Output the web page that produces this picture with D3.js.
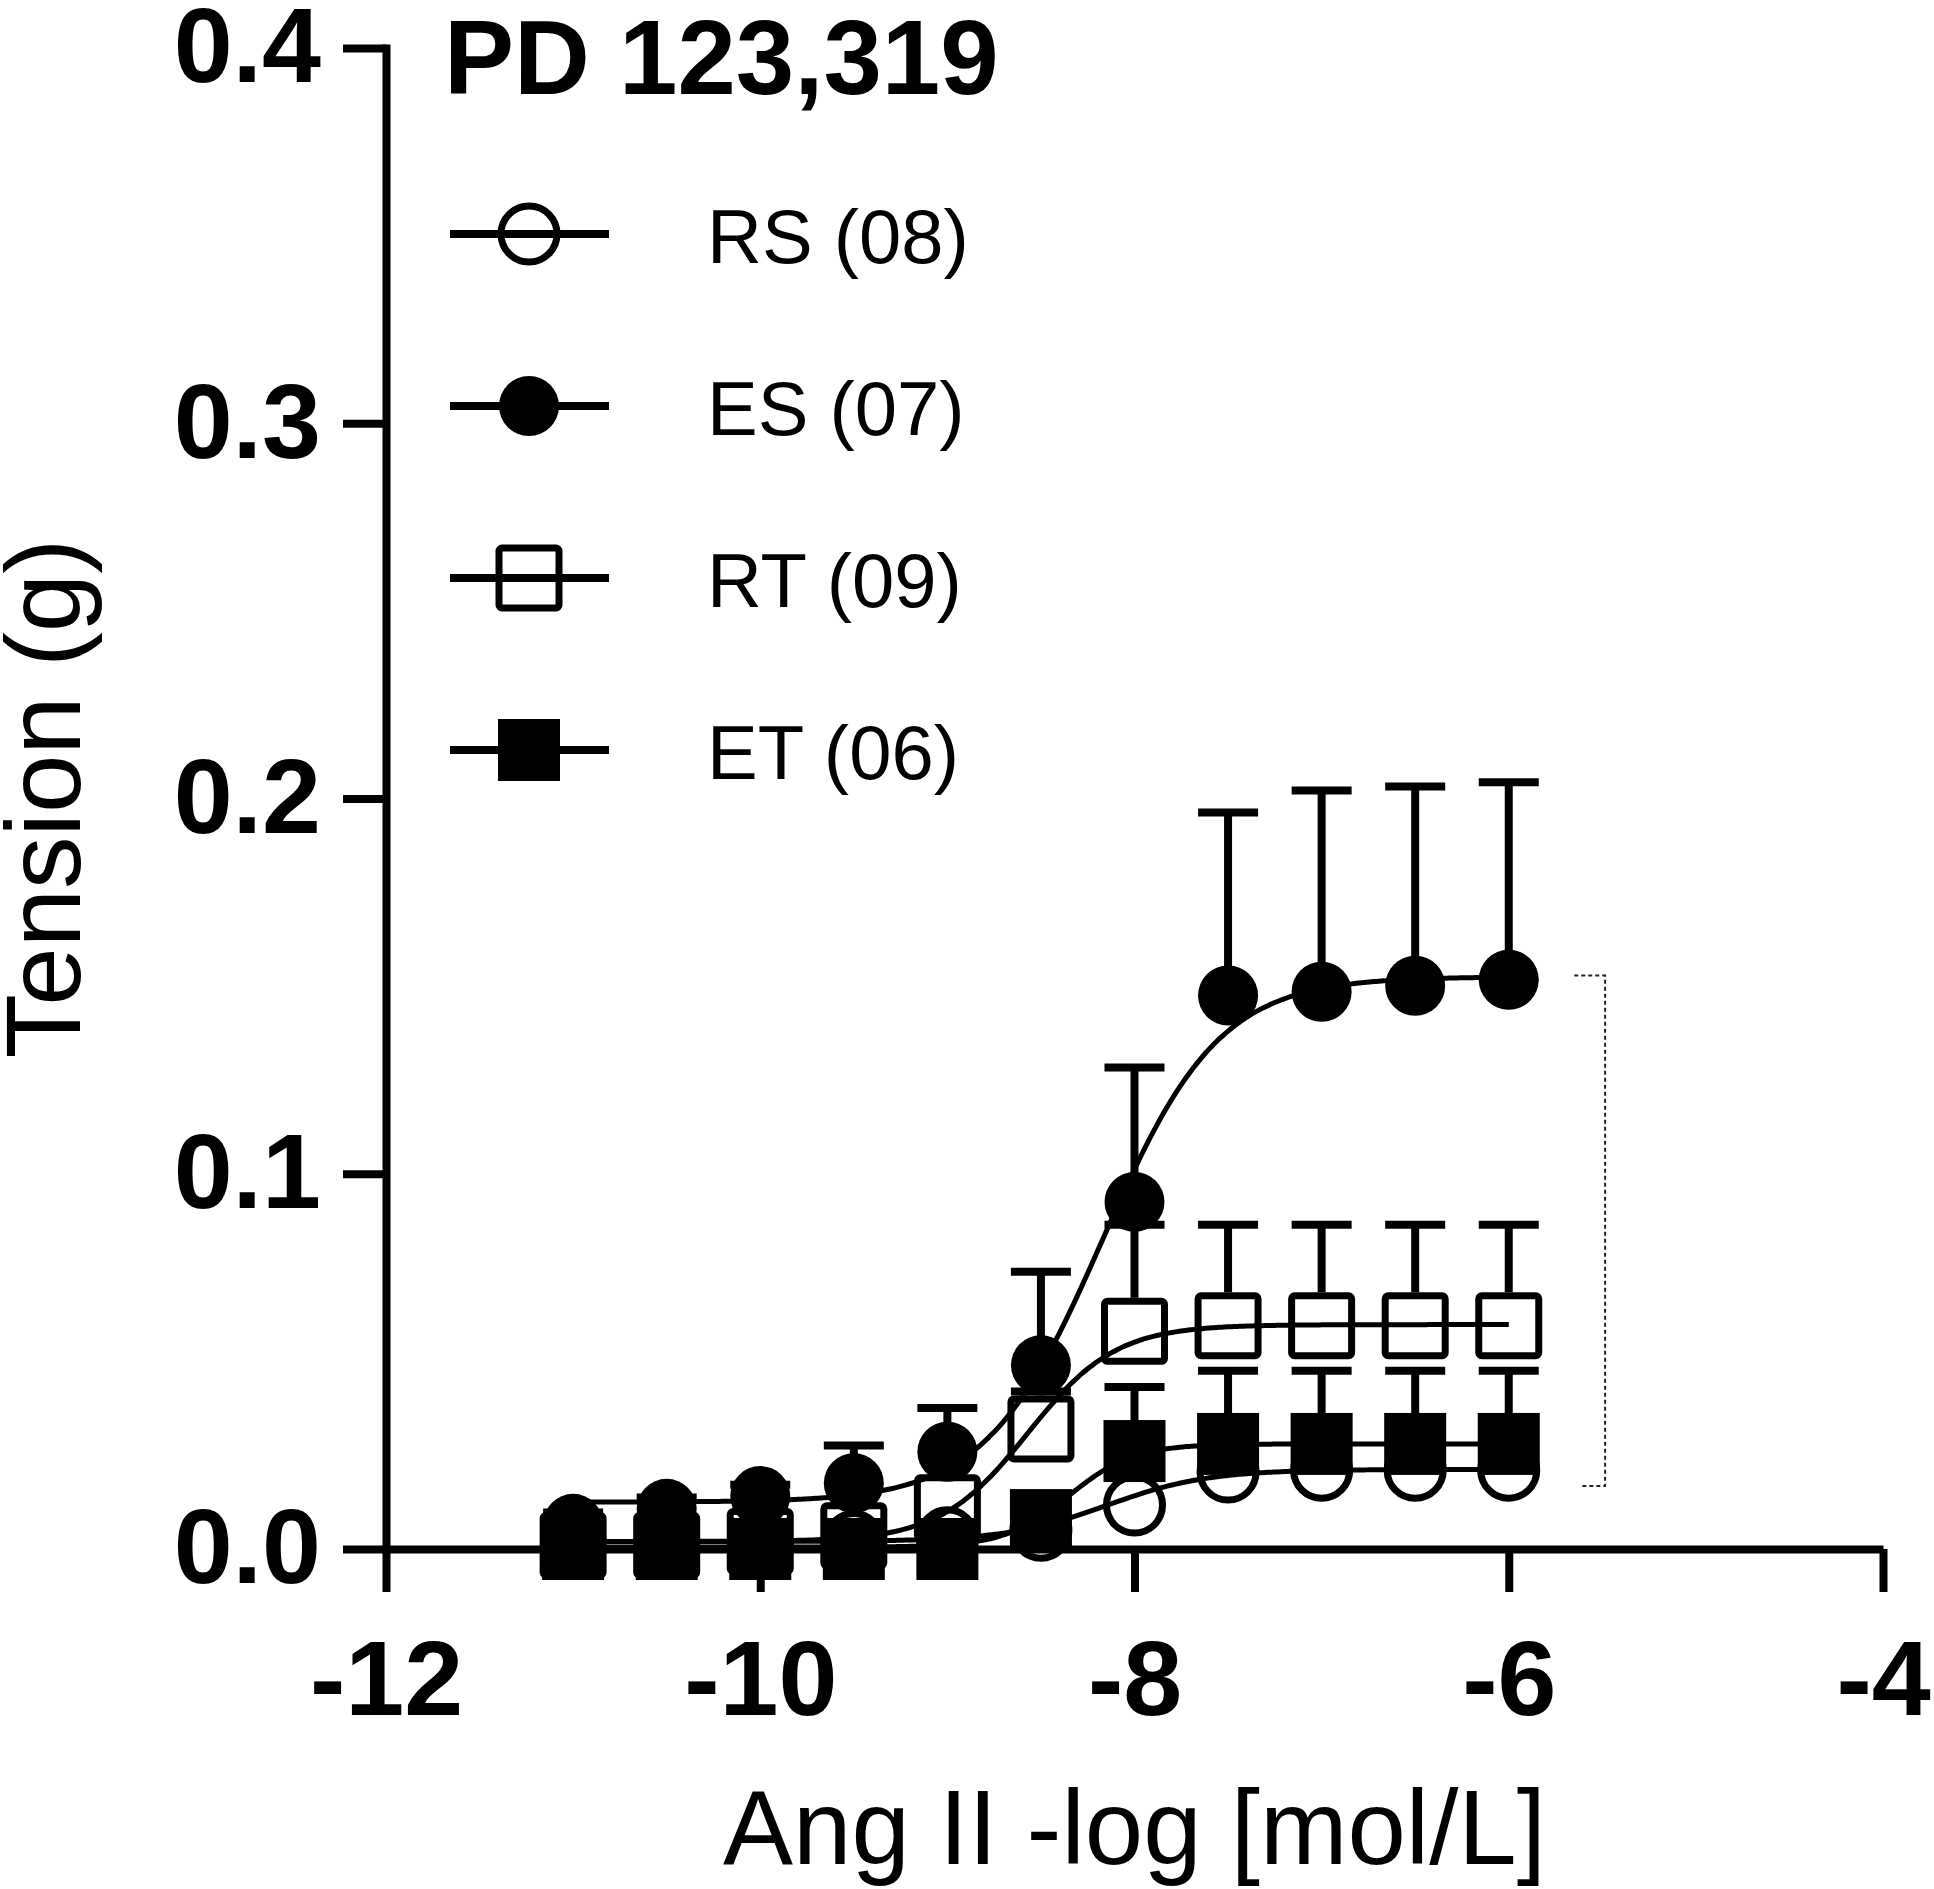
<!DOCTYPE html>
<html>
<head>
<meta charset="utf-8">
<script src="https://cdn.jsdelivr.net/npm/d3@7"></script>
<style>
  html, body { margin: 0; padding: 0; background: #fff; }
  svg { display: block; font-family: "Liberation Sans", Arial, Helvetica, sans-serif; }
</style>
</head>
<body>
<svg id="chart" width="1934" height="1889"></svg>
<script>
// ---- data ----
const doses = [-11, -10.5, -10, -9.5, -9, -8.5, -8, -7.5, -7, -6.5, -6];

const rsMean = [0.002, 0.002, 0.002, 0.002, 0.003, 0.005, 0.0117, 0.0205, 0.021, 0.021, 0.021];
const rsSem  = [0.002, 0.002, 0.002, 0.002, 0.002, 0.002, 0.003, 0.004, 0.004, 0.004, 0.004];

const esMean = [0.0067, 0.0107, 0.0141, 0.0175, 0.0259, 0.049, 0.0925, 0.1475, 0.1485, 0.1501, 0.1517];
const esSem  = [0.003, 0.003, 0.003, 0.0101, 0.0117, 0.0249, 0.0358, 0.0488, 0.0536, 0.0531, 0.0526];

const rtMean = [0.001, 0.001, 0.002, 0.0035, 0.011, 0.032, 0.058, 0.0595, 0.0595, 0.0595, 0.0595];
const rtSem  = [0.002, 0.002, 0.002, 0.003, 0.005, 0.010, 0.0284, 0.0269, 0.0269, 0.0269, 0.0269];

const etMean = [0, 0, 0, 0, 0, 0.0077, 0.0261, 0.028, 0.028, 0.028, 0.028];
const etSem  = [0.001, 0.001, 0.001, 0.001, 0.001, 0.003, 0.0171, 0.0195, 0.0195, 0.0195, 0.0195];

// fitted sigmoid (4-parameter logistic) parameters per series: RS, ES, RT, ET
const fitBottom  = [0.002, 0.0125, 0.002, 0.0005];
const fitTop     = [0.0212, 0.1525, 0.0598, 0.028];
const fitLogEC50 = [-8.15, -8.17, -8.57, -8.35];
const fitHill    = [1.6, 1.4, 1.85, 2.5];

const seriesNames = ["RS (08)", "ES (07)", "RT (09)", "ET (06)"];
const seriesShape = ["circle", "circle", "square", "square"];
const seriesFilled = [false, true, false, true];

const xTicks = [-12, -10, -8, -6, -4];
const yTicks = [0.0, 0.1, 0.2, 0.3, 0.4];
const chartTitle = "PD 123,319";
const xTitle = "Ang II -log [mol/L]";
const yTitle = "Tension (g)";
// dotted bracket annotation (between ES and RS plateaus)
const bracketValues = [0.1528, 0.0168];

// ---- drawing ----
const svg = d3.select("#chart");
svg.append("rect").attr("width", 1934).attr("height", 1889).attr("fill", "#fff");

const x = d3.scaleLinear().domain([-12, -4]).range([386, 1883]);
const y = d3.scaleLinear().domain([0, 0.4]).range([1549, 48]);

const axisW = 8;

// Y axis
const yAxis = svg.append("g").attr("transform", `translate(${x(-12)},0)`)
  .call(d3.axisLeft(y).tickValues(yTicks).tickFormat(d3.format(".1f"))
        .tickSize(43).tickSizeOuter(0).tickPadding(22));
yAxis.select(".domain").attr("stroke", "#000").attr("stroke-width", axisW).attr("stroke-linecap", "square");
yAxis.selectAll(".tick line").attr("stroke", "#000").attr("stroke-width", axisW);
yAxis.selectAll(".tick text").attr("fill", "#000").attr("font-size", 106).attr("font-weight", "bold")
  .attr("font-family", "'Liberation Sans', Arial, sans-serif");

// X axis
const xAxis = svg.append("g").attr("transform", `translate(0,${y(0)})`)
  .call(d3.axisBottom(x).tickValues(xTicks).tickFormat(d => String(d))
        .tickSize(43).tickSizeOuter(0).tickPadding(48));
xAxis.select(".domain").attr("stroke", "#000").attr("stroke-width", axisW);
xAxis.selectAll(".tick line").attr("stroke", "#000").attr("stroke-width", axisW);
xAxis.selectAll(".tick text").attr("fill", "#000").attr("font-size", 106).attr("font-weight", "bold")
  .attr("font-family", "'Liberation Sans', Arial, sans-serif");

// titles
svg.append("text").attr("x", 444).attr("y", 94).attr("font-size", 105).attr("font-weight", "bold")
  .attr("fill", "#000").text(chartTitle);
svg.append("text").attr("x", (x(-12) + x(-4)) / 2).attr("y", 1864).attr("text-anchor", "middle")
  .attr("font-size", 105).attr("fill", "#000").text(xTitle);
svg.append("text").attr("transform", `translate(80,${(y(0) + y(0.4)) / 2}) rotate(-90)`)
  .attr("text-anchor", "middle").attr("font-size", 105).attr("fill", "#000").text(yTitle);

const means = [rsMean, esMean, rtMean, etMean];
const sems = [rsSem, esSem, rtSem, etSem];

// fitted curves
const logistic = (i, v) => fitBottom[i] + (fitTop[i] - fitBottom[i]) / (1 + Math.pow(10, (fitLogEC50[i] - v) * fitHill[i]));
const curveX = d3.range(-11, -5.999, 0.02);
const line = d3.line().x(d => x(d[0])).y(d => y(d[1])).curve(d3.curveMonotoneX);
means.forEach((m, i) => {
  svg.append("path").datum(curveX.map(v => [v, logistic(i, v)]))
    .attr("d", line).attr("fill", "none").attr("stroke", "#000").attr("stroke-width", 5);
});

// marker geometry
const circR = 30, openCircR = 28, sqFilled = 62, sqOpen = 60, mStroke = 7, capW = 60;
function halfOuter(i) {
  if (seriesShape[i] === "circle") return seriesFilled[i] ? 0 : openCircR + mStroke / 2;
  return seriesFilled[i] ? 0 : sqOpen / 2 + mStroke / 2;
}

// error bars (upper only)
means.forEach((m, i) => {
  m.forEach((v, k) => {
    const cx = x(doses[k]);
    const y0 = y(v) - halfOuter(i);
    const y1 = y(v + sems[i][k]);
    if (y1 >= y0 - 2) return;
    svg.append("line").attr("x1", cx).attr("x2", cx).attr("y1", y0).attr("y2", y1)
      .attr("stroke", "#000").attr("stroke-width", 8);
    svg.append("line").attr("x1", cx - capW / 2).attr("x2", cx + capW / 2).attr("y1", y1).attr("y2", y1)
      .attr("stroke", "#000").attr("stroke-width", 8);
  });
});

function drawMarker(g, i, cx, cy) {
  if (seriesShape[i] === "circle") {
    if (seriesFilled[i]) g.append("circle").attr("cx", cx).attr("cy", cy).attr("r", circR).attr("fill", "#000");
    else g.append("circle").attr("cx", cx).attr("cy", cy).attr("r", openCircR)
      .attr("fill", "none").attr("stroke", "#000").attr("stroke-width", mStroke);
  } else {
    if (seriesFilled[i]) g.append("rect").attr("x", cx - sqFilled / 2).attr("y", cy - sqFilled / 2)
      .attr("width", sqFilled).attr("height", sqFilled).attr("fill", "#000");
    else g.append("rect").attr("x", cx - sqOpen / 2).attr("y", cy - sqOpen / 2)
      .attr("width", sqOpen).attr("height", sqOpen).attr("rx", 3)
      .attr("fill", "none").attr("stroke", "#000").attr("stroke-width", mStroke);
  }
}

// markers
means.forEach((m, i) => {
  const g = svg.append("g");
  m.forEach((v, k) => drawMarker(g, i, x(doses[k]), y(v)));
});

// dotted bracket
const bx1 = x(-5.65), bx2 = x(-5.485), bx3 = x(-5.62);
svg.append("path")
  .attr("d", `M${bx1},${y(bracketValues[0])}H${bx2}V${y(bracketValues[1])}H${bx3}`)
  .attr("fill", "none").attr("stroke", "#222").attr("stroke-width", 2).attr("stroke-dasharray", "4,3");

// legend
const legY = [234, 406, 578, 750];
seriesNames.forEach((name, i) => {
  const g = svg.append("g");
  g.append("line").attr("x1", 450).attr("x2", 609).attr("y1", legY[i]).attr("y2", legY[i])
    .attr("stroke", "#000").attr("stroke-width", 8);
  drawMarker(g, i, 529, legY[i]);
  g.append("text").attr("x", 707).attr("y", legY[i] + 29).attr("font-size", 76).attr("fill", "#000").text(name);
});
</script>
</body>
</html>
